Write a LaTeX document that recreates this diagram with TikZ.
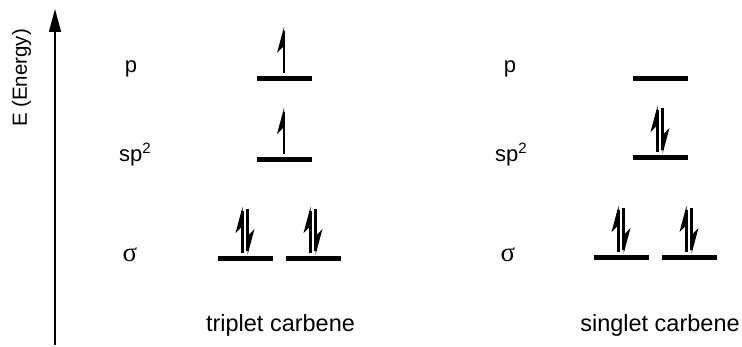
\documentclass[tikz,border=0pt]{standalone}
\usepackage{fontspec}
\setmainfont{Liberation Sans}
\newfontfamily\greekfont{Liberation Serif}
\usetikzlibrary{arrows.meta}
\tikzset{
  orbline/.style={line width=5pt},
  elec/.style={line width=2.2pt},
  lbl/.style={font=\fontsize{22}{26}\selectfont,anchor=base,inner sep=0pt},
  captxt/.style={font=\fontsize{23.5}{28}\selectfont,anchor=base,inner sep=0pt},
}
% orbital level: centre x, height y
\newcommand{\orbital}[2]{\draw[orbline] (#1-27.5,#2) -- (#1+27.5,#2);}
% spin up / spin down half arrows standing on a level
\newcommand{\spinup}[2]{%
  \draw[elec] (#1,#2-6) -- (#1,#2-48);
  \fill (#1,#2-52) -- (#1-7,#2-26) -- (#1,#2-33) -- cycle;}
\newcommand{\spindown}[2]{%
  \draw[elec] (#1,#2-50) -- (#1,#2-8);
  \fill (#1,#2-4) -- (#1+7,#2-30) -- (#1,#2-23) -- cycle;}
\newcommand{\suptwo}{\raisebox{8pt}{\fontsize{15}{18}\selectfont 2}}

\begin{document}
\begin{tikzpicture}[x=1pt,y=-1pt]
  \useasboundingbox (0,0) rectangle (742,347);
  % energy axis
  \coordinate (axbot) at (55,345);
  \coordinate (axtop) at (55,9);
  \draw[line width=1.5pt,-{Triangle[width=12pt,length=23pt]}] (axbot) -- (axtop);
  \node[font=\fontsize{20.5}{24}\selectfont,rotate=90,anchor=base,inner sep=0pt] (axlbl) at (27,78) {E (Energy)};
  % level labels
  \node[lbl] (pT) at (131,73) {p};
  \node[lbl] (spT) at (135,162) {sp\suptwo};
  \node[lbl,font=\fontsize{27}{30}\greekfont] (sigT) at (130,262) {σ};
  \node[lbl] (pS) at (510,73) {p};
  \node[lbl] (spS) at (511,162) {sp\suptwo};
  \node[lbl,font=\fontsize{27}{30}\greekfont] (sigS) at (508,262) {σ};
  % triplet carbene
  \orbital{284.5}{79}
  \orbital{284.5}{160}
  \spinup{284}{79}
  \spinup{284}{160}
  \foreach \cx in {245.5,313.5} {
    \orbital{\cx}{259}
    \spinup{\cx-3}{259}
    \spindown{\cx+2}{259}
  }
  % singlet carbene
  \orbital{660.5}{79}
  \orbital{660.5}{158}
  \spinup{657.5}{158}
  \spindown{662.5}{158}
  \foreach \cx in {621.5,689.5} {
    \orbital{\cx}{258}
    \spinup{\cx-3}{258}
    \spindown{\cx+2}{258}
  }
  \node[captxt] (trip) at (280.5,332) {triplet carbene};
  \node[captxt] (sing) at (660,332) {singlet carbene};
\end{tikzpicture}
\end{document}
